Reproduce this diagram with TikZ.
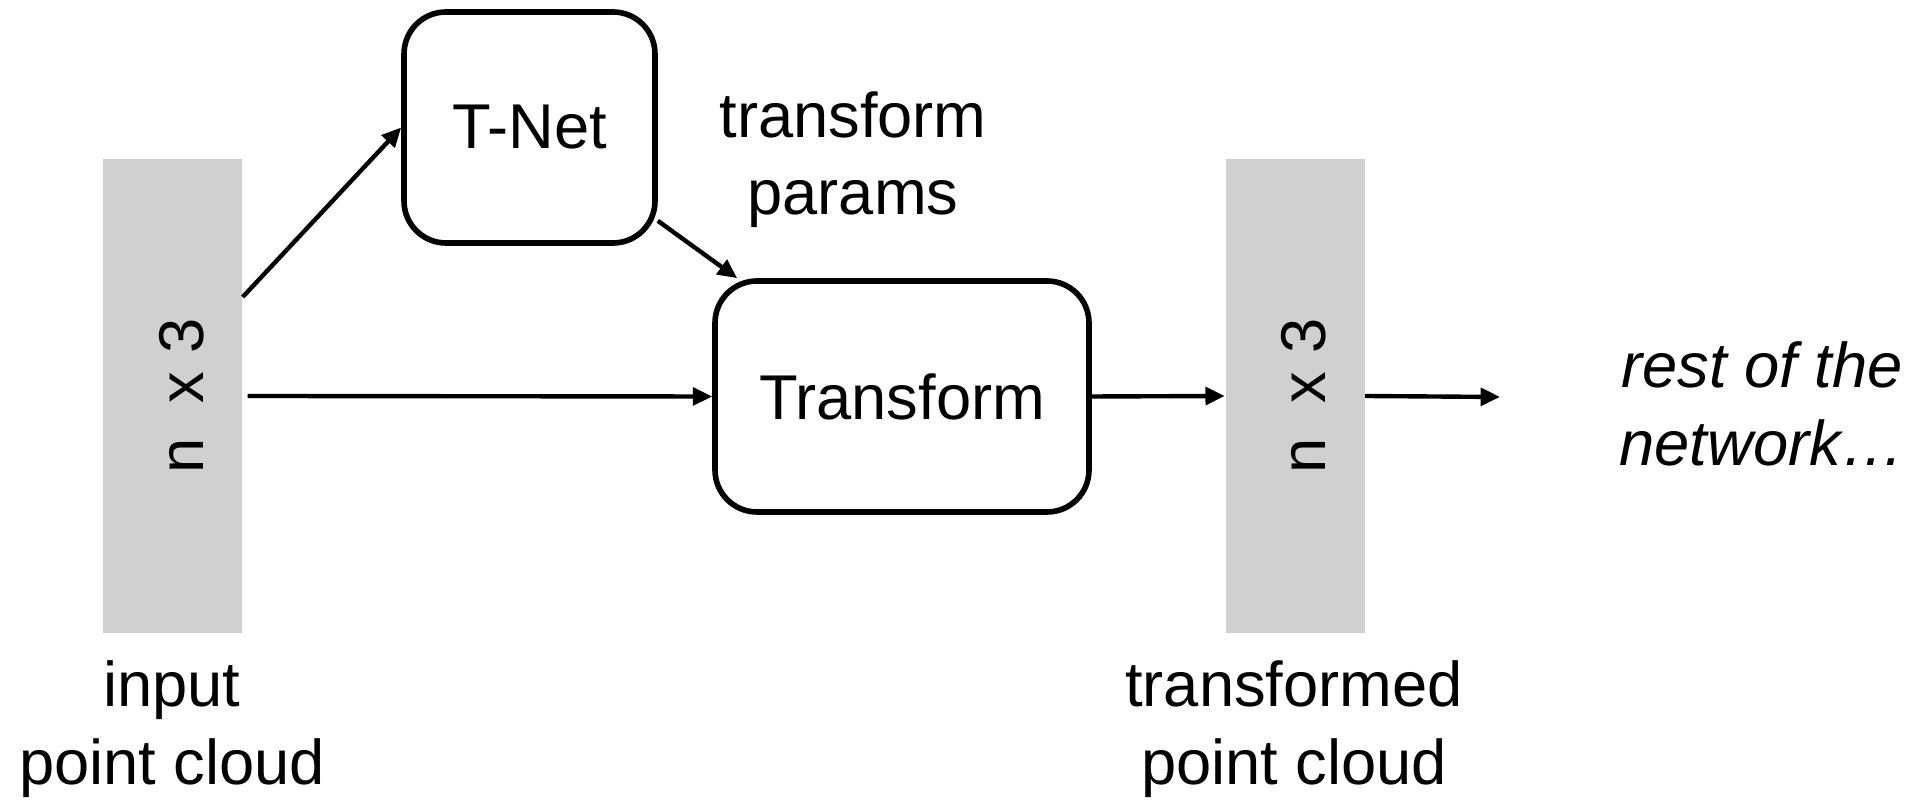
\documentclass[tikz,border=0pt]{standalone}
\usepackage{fontspec}
\setmainfont{Liberation Sans}
\usetikzlibrary{arrows.meta}
\definecolor{bargray}{RGB}{208,208,208}

\begin{document}
\begin{tikzpicture}[font=\fontsize{18}{22}\selectfont,
        box/.style={draw, line width=1.6pt, rounded corners=0.42cm, minimum height=2.31cm, inner sep=0pt},
        bar/.style={fill=bargray, minimum width=1.39cm, minimum height=4.74cm, inner sep=0pt},
        arr/.style={-{Triangle[length=5.5pt,width=5pt]}, line width=1.25pt},
        lbl/.style={align=center}]
            \useasboundingbox (0,0) rectangle (19.16,8);
            \node [bar](pc) at (1.725,4.04) {};
            \node [rotate=90](pcdim) at ([xshift=0.09cm]pc.center) {n~~x 3};
            \node [bar](tpc) at (12.95,4.04) {};
            \node [rotate=90](tpcdim) at ([xshift=0.09cm]tpc.center) {n~~x 3};
            \node [box, minimum width=2.51cm](tnet) at (5.295,6.725) {T-Net};
            \node [box, minimum width=3.74cm](tf) at (9.02,4.035) {Transform};
            \node [lbl](params) at (8.53,6.40) {transform\\params};
            \node [lbl](pclbl) at (1.72,0.71) {input\\point cloud};
            \node [lbl](tpclbl) at (12.94,0.71) {transformed\\point cloud};
            \node [lbl, font=\fontsize{18}{22}\selectfont\itshape](rest) at (17.62,3.96) {rest of the\\network…};
            \coordinate (restend) at (15.00,4.03);
            \draw [arr]([yshift=0.99cm]pc.east) -- (tnet.west);
            \draw [arr]([yshift=0.25cm]tnet.south east) -- ([xshift=0.25cm]tf.north west);
            \draw [arr]([xshift=0.05cm]pc.east) -- (tf.west);
            \draw [arr](tf.east) -- (tpc.west);
            \draw [arr](tpc.east) -- (restend);
        \end{tikzpicture}
\end{document}
